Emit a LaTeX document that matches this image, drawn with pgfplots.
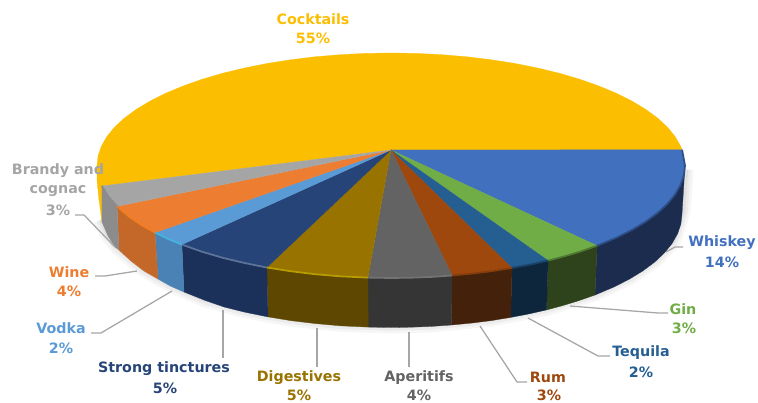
\documentclass[border=0pt]{standalone}
\usepackage{pgfplots}
\usepackage{pgfplotstable}
\usepackage{fontspec}
\setmainfont{DejaVu Sans}
\pgfplotsset{compat=1.18}

\definecolor{cCock}{HTML}{FCBE00}
\definecolor{cWhis}{HTML}{4170BF}
\definecolor{cGin}{HTML}{70AD47}
\definecolor{cTeq}{HTML}{255E91}
\definecolor{cRum}{HTML}{9E480E}
\definecolor{cApe}{HTML}{636363}
\definecolor{cDig}{HTML}{997300}
\definecolor{cStr}{HTML}{264478}
\definecolor{cVod}{HTML}{5B9BD5}
\definecolor{cWin}{HTML}{ED7D31}
\definecolor{cBra}{HTML}{A5A5A5}
\definecolor{sWhis}{HTML}{1B2C4E}
\definecolor{sGin}{HTML}{2E431C}
\definecolor{sTeq}{HTML}{0E263B}
\definecolor{sRum}{HTML}{44210A}
\definecolor{sApe}{HTML}{353535}
\definecolor{sDig}{HTML}{5E4700}
\definecolor{sStr}{HTML}{1C3159}
\definecolor{sVod}{HTML}{4A82B5}
\definecolor{sWin}{HTML}{C4682A}
\definecolor{sBra}{HTML}{8C8C8C}
\definecolor{leader}{HTML}{A6A6A6}

\tikzset{
    lab/.style={font=\bfseries\fontsize{10.7}{12}\selectfont, text=#1, anchor=center, inner sep=0pt},
}
\pgfplotsset{
    face/.style={fill=#1, draw=#1, line width=0.2pt, mark=none},
    rim/.style={draw=#1, line width=1.3pt, mark=none, skip coords between index={0}{1}},
    lead/.style={draw=leader, line width=0.95pt, mark=none},
}

% top faces: first row is the centre of the pie, the rest is the rim (image pixels)
\pgfplotstableread{
x y
391 150
682.1 149.8
685 165.5
683.9 175.3
680.5 185
675 194.6
667.3 204
657.5 213
645.6 221.8
631.8 230
616.2 237.8
597.1 245.7
}\topWhis
\pgfplotstableread{
x y
391 150
597.1 245.7
580 251.7
563.8 256.5
548.1 260.6
}\topGin
\pgfplotstableread{
x y
391 150
548.1 260.6
530.4 264.6
512 268
}\topTeq
\pgfplotstableread{
x y
391 150
512 268
491.5 271.2
472 273.6
452.1 275.5
}\topRum
\pgfplotstableread{
x y
391 150
452.1 275.5
431.9 276.9
411.5 277.7
391 278
367.9 277.6
}\topApe
\pgfplotstableread{
x y
391 150
367.9 277.6
340 276.3
314.9 274.2
290.5 271.2
266.8 267.5
}\topDig
\pgfplotstableread{
x y
391 150
266.8 267.5
244 262.9
222.4 257.7
202 251.7
181.9 244.6
}\topStr
\pgfplotstableread{
x y
391 150
181.9 244.6
168.1 238.9
155 232.6
}\topVod
\pgfplotstableread{
x y
391 150
155 232.6
141.7 225.1
129 216.6
117.1 206.4
}\topWin
\pgfplotstableread{
x y
391 150
117.1 206.4
108.4 196.5
101.9 186
}\topBra
\pgfplotstableread{
x y
391 150
101.9 186
98.1 175.3
97 165.5
98.1 155.7
101.5 146
107 136.4
114.7 127
124.5 118
136.4 109.3
150.2 101
165.8 93.2
183.1 86
202 79.3
222.4 73.3
244 68.1
266.8 63.5
290.5 59.8
314.9 56.8
340 54.7
365.4 53.4
391 53
416.6 53.4
442 54.7
467.1 56.8
491.5 59.8
515.2 63.5
538 68.1
559.6 73.3
580 79.3
598.9 86
616.2 93.2
631.8 101
645.6 109.3
657.5 118
667.3 127
675 136.4
680.5 146
682.1 149.8
}\topCock
% lower outline of the wall, used for the soft shadow
\pgfplotstableread{
x y
685 172
682 214
672.1 243.4
654.7 262
629.4 279.1
595 295
546.5 309.9
490.5 320.7
431.5 326.4
391 327.5
340.5 325.8
291.5 320.7
245.5 312.3
204 300.9
170.4 286
144 271
119 250
108 236
102 222
}\lowerEdge

\begin{document}
\begin{tikzpicture}
\begin{axis}[
    scale only axis,
    width=568.5pt,
    height=302.25pt,
    xmin=0, xmax=758,
    ymin=0, ymax=403,
    y dir=reverse,
    hide axis,
    clip=false,
    every axis plot/.append style={line join=round},
]
% shadow below the pie
\addplot[draw=black, opacity=0.035, line width=13pt, yshift=2pt, mark=none] table {\lowerEdge};
\addplot[draw=black, opacity=0.04, line width=9pt, yshift=2pt, mark=none] table {\lowerEdge};
\addplot[draw=black, opacity=0.05, line width=5pt, yshift=2pt, mark=none] table {\lowerEdge};

% walls
\addplot[face=cCock] coordinates {(97,165.5) (98.1,175.3) (101.9,186) (102,222) (99,200) (97,180)} -- cycle;
\addplot[face=sWhis] coordinates {(685,165.5) (683.9,175.3) (680.5,185) (675,194.6) (667.3,204) (657.5,213) (645.6,221.8) (631.8,230) (616.2,237.8) (597.1,245.7) (595,295) (613.9,287) (629.4,279.1) (643,270.8) (654.7,262) (664.5,252.8) (672.1,243.4) (677.6,233.7) (680.9,223.9) (682,214)} -- cycle;
\addplot[face=sGin] coordinates {(597.1,245.7) (580,251.7) (563.8,256.5) (548.1,260.6) (546.5,309.9) (562,305.8) (578.1,300.9) (595,295)} -- cycle;
\addplot[face=sTeq] coordinates {(548.1,260.6) (530.4,264.6) (512,268) (510.7,317.4) (529,313.9) (546.5,309.9)} -- cycle;
\addplot[face=sRum] coordinates {(512,268) (491.5,271.2) (472,273.6) (452.1,275.5) (451.5,325) (471.2,323.1) (490.5,320.7) (510.7,317.4)} -- cycle;
\addplot[face=sApe] coordinates {(452.1,275.5) (431.9,276.9) (411.5,277.7) (391,278) (367.9,277.6) (368.2,327.1) (391,327.5) (411.3,327.2) (431.5,326.4) (451.5,325)} -- cycle;
\addplot[face=sDig] coordinates {(367.9,277.6) (340,276.3) (314.9,274.2) (290.5,271.2) (266.8,267.5) (268,316.9) (291.5,320.7) (315.7,323.6) (340.5,325.8) (368.2,327.1)} -- cycle;
\addplot[face=sStr] coordinates {(266.8,267.5) (244,262.9) (222.4,257.7) (202,251.7) (181.9,244.6) (184,292) (204,300) (224.1,307) (245.5,312.3) (268,316.9)} -- cycle;
\addplot[face=sVod] coordinates {(181.9,244.6) (168.1,238.9) (155,232.6) (158,279) (170.4,286) (184,292)} -- cycle;
\addplot[face=sWin] coordinates {(155,232.6) (141.7,225.1) (129,216.6) (117.1,206.4) (119,250) (131,261) (144,271) (158,279)} -- cycle;
\addplot[face=sBra] coordinates {(117.1,206.4) (108.4,196.5) (101.9,186) (102,222) (108,236) (115,247) (119,250)} -- cycle;

% top faces
\addplot[face=cCock] table {\topCock} -- cycle;
\addplot[face=cWhis] table {\topWhis} -- cycle;
\addplot[face=cGin] table {\topGin} -- cycle;
\addplot[face=cTeq] table {\topTeq} -- cycle;
\addplot[face=cRum] table {\topRum} -- cycle;
\addplot[face=cApe] table {\topApe} -- cycle;
\addplot[face=cDig] table {\topDig} -- cycle;
\addplot[face=cStr] table {\topStr} -- cycle;
\addplot[face=cVod] table {\topVod} -- cycle;
\addplot[face=cWin] table {\topWin} -- cycle;
\addplot[face=cBra] table {\topBra} -- cycle;

% bevel along the rim
\addplot[rim=cWhis!70!black] table {\topWhis};
\addplot[rim=cGin!70!black] table {\topGin};
\addplot[rim=cTeq!70!black] table {\topTeq};
\addplot[rim=cRum!85!black] table {\topRum};
\addplot[rim=cApe!90!white] table {\topApe};
\addplot[rim=cDig!70!yellow] table {\topDig};
\addplot[rim=cStr!75!white] table {\topStr};
\addplot[rim=cVod!75!cyan] table {\topVod};
\addplot[rim=cWin!70!orange] table {\topWin};
\addplot[rim=cBra!85!black] table {\topBra};

% leader lines
\addplot[lead] coordinates {(666,252) (675,247) (683,247)};
\addplot[lead] coordinates {(570,306) (658,313) (668,313)};
\addplot[lead] coordinates {(528,318) (598,356) (610,356)};
\addplot[lead] coordinates {(480,326) (517,382) (527,382)};
\addplot[lead] coordinates {(409,332) (409,367)};
\addplot[lead] coordinates {(317,328) (317,367)};
\addplot[lead] coordinates {(223,310) (223,358)};
\addplot[lead] coordinates {(172,291) (101,333) (91,333)};
\addplot[lead] coordinates {(137,271) (105,276) (95,276)};
\addplot[lead] coordinates {(115,247) (84,215) (75,215)};

% data labels
\node[lab=cCock] at (axis cs:313,19) {Cocktails};
\node[lab=cCock] at (axis cs:313,38) {55\%};
\node[lab=cWhis] at (axis cs:722,243) {Whiskey};
\node[lab=cWhis] at (axis cs:722,262) {14\%};
\node[lab=cGin] at (axis cs:683,309) {Gin};
\node[lab=cGin] at (axis cs:684,328) {3\%};
\node[lab=cTeq] at (axis cs:641,353) {Tequila};
\node[lab=cTeq] at (axis cs:641,372) {2\%};
\node[lab=cRum] at (axis cs:548,377) {Rum};
\node[lab=cRum] at (axis cs:549,395.5) {3\%};
\node[lab=cApe] at (axis cs:419,378) {Aperitifs};
\node[lab=cApe] at (axis cs:419,395.5) {4\%};
\node[lab=cDig] at (axis cs:299,378) {Digestives};
\node[lab=cDig] at (axis cs:299,395.5) {5\%};
\node[lab=cStr] at (axis cs:164,369) {Strong tinctures};
\node[lab=cStr] at (axis cs:165,388) {5\%};
\node[lab=cVod] at (axis cs:61,328) {Vodka};
\node[lab=cVod] at (axis cs:61,348) {2\%};
\node[lab=cWin] at (axis cs:69,272) {Wine};
\node[lab=cWin] at (axis cs:69,291) {4\%};
\node[lab=cBra] at (axis cs:58,171) {Brandy and};
\node[lab=cBra] at (axis cs:58,191) {cognac};
\node[lab=cBra] at (axis cs:58,210) {3\%};
\end{axis}
\pgfresetboundingbox
\path[use as bounding box] (0,0) rectangle (568.5pt,302.25pt);
\end{tikzpicture}
\end{document}
